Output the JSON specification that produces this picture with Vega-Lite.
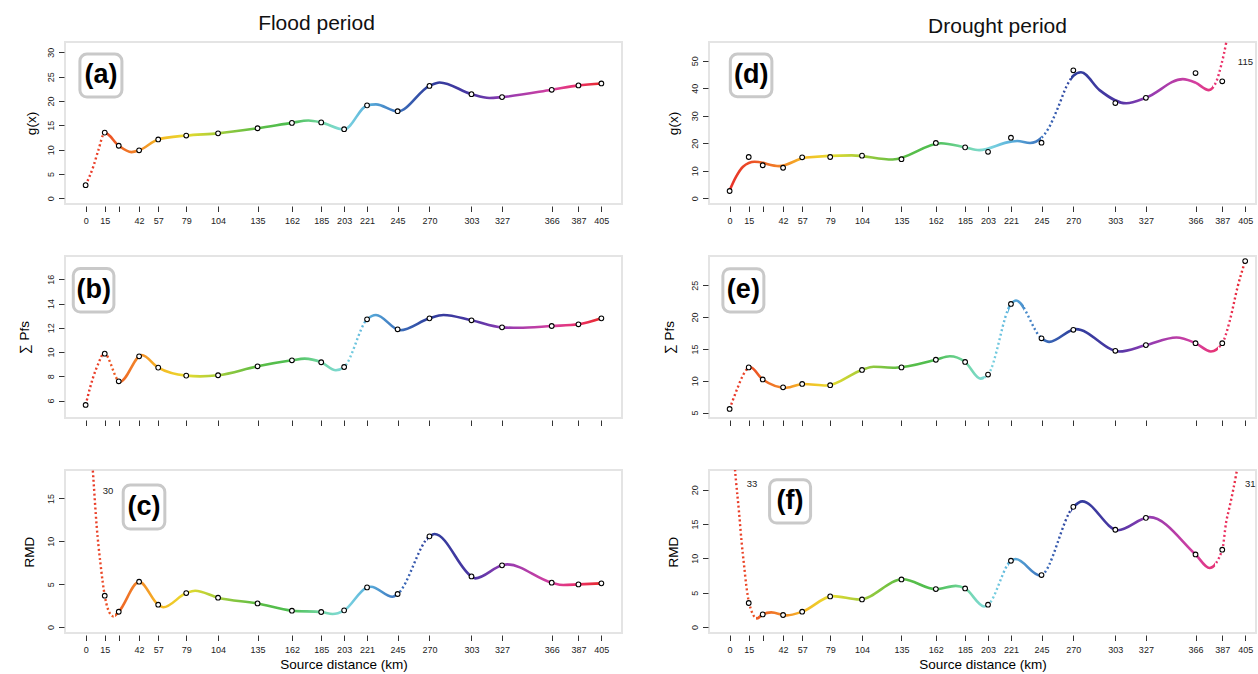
{
"$schema": "https://vega.github.io/schema/vega-lite/v6.json",
"padding": {"left": 16, "top": 12, "right": 0, "bottom": 0},
"config": {
  "font": "Liberation Sans",
  "view": {"stroke": "#e4e4e4", "strokeWidth": 2},
  "axis": {"domain": false, "grid": false, "tickColor": "#333", "tickSize": 5.5, "tickWidth": 1, "tickCount": 60, "format": "d", "labelFontSize": 9, "labelColor": "#222", "labelFont": "Liberation Sans", "titleFont": "Liberation Sans", "titleFontSize": 13.5, "titleFontWeight": "normal", "titleColor": "#000", "labelOverlap": false, "labelSeparation": 0, "labelFlush": false},
  "axisX": {"offset": 2, "labelPadding": 5, "labelOverlap": false},
  "axisY": {"offset": 1, "labelAngle": -90, "labelAlign": "center", "labelBaseline": "bottom", "labelPadding": 3, "labelOverlap": false}
},
"datasets": {
  "a_obs": [{"km":0,"value":2.7},{"km":15,"value":13.5},{"km":26,"value":10.8},{"km":42,"value":9.86},{"km":57,"value":12.1},{"km":79,"value":12.9},{"km":104,"value":13.35},{"km":135,"value":14.4},{"km":162,"value":15.5},{"km":185,"value":15.6},{"km":203,"value":14.2},{"km":221,"value":19.1},{"km":245,"value":17.9},{"km":270,"value":23.1},{"km":303,"value":21.4},{"km":327,"value":20.8},{"km":366,"value":22.3},{"km":387,"value":23.2},{"km":405,"value":23.6}],
  "a_fit": [{"km":0,"value":2.7},{"km":6,"value":6.5},{"km":10,"value":9.9},{"km":15,"value":13.5},{"km":26,"value":10.8},{"km":36,"value":9.5},{"km":42,"value":9.86},{"km":57,"value":12.1},{"km":79,"value":12.9},{"km":104,"value":13.35},{"km":135,"value":14.4},{"km":162,"value":15.5},{"km":175,"value":16.0},{"km":185,"value":15.6},{"km":203,"value":14.15},{"km":221,"value":19.1},{"km":228,"value":19.3},{"km":245,"value":17.85},{"km":270,"value":23.1},{"km":278,"value":23.8},{"km":303,"value":21.4},{"km":317,"value":20.6},{"km":327,"value":20.8},{"km":366,"value":22.3},{"km":387,"value":23.2},{"km":405,"value":23.6}],
  "b_obs": [{"km":0,"value":5.64},{"km":15,"value":9.87},{"km":26,"value":7.59},{"km":42,"value":9.65},{"km":57,"value":8.72},{"km":79,"value":8.06},{"km":104,"value":8.09},{"km":135,"value":8.83},{"km":162,"value":9.32},{"km":185,"value":9.16},{"km":203,"value":8.77},{"km":221,"value":12.7},{"km":245,"value":11.88},{"km":270,"value":12.78},{"km":303,"value":12.62},{"km":327,"value":12.04},{"km":366,"value":12.15},{"km":387,"value":12.29},{"km":405,"value":12.78}],
  "b_fit": [{"km":0,"value":5.64},{"km":6,"value":7.95},{"km":10,"value":9.05},{"km":14.5,"value":9.92},{"km":27,"value":7.55},{"km":44,"value":9.76},{"km":57,"value":8.72},{"km":79,"value":8.06},{"km":90,"value":8.0},{"km":104,"value":8.09},{"km":135,"value":8.83},{"km":162,"value":9.32},{"km":172,"value":9.46},{"km":185,"value":9.16},{"km":196.5,"value":8.5},{"km":203,"value":8.77},{"km":221,"value":12.7},{"km":228,"value":13.06},{"km":247,"value":11.8},{"km":270,"value":12.78},{"km":281,"value":13.06},{"km":303,"value":12.62},{"km":327,"value":12.04},{"km":340,"value":12.0},{"km":366,"value":12.15},{"km":387,"value":12.29},{"km":405,"value":12.78}],
  "c_obs": [{"km":0,"value":30},{"km":15,"value":3.65},{"km":26,"value":1.78},{"km":42,"value":5.28},{"km":57,"value":2.6},{"km":79,"value":3.96},{"km":104,"value":3.42},{"km":135,"value":2.75},{"km":162,"value":1.9},{"km":185,"value":1.75},{"km":203,"value":1.94},{"km":221,"value":4.62},{"km":245,"value":3.85},{"km":270,"value":10.57},{"km":303,"value":5.9},{"km":327,"value":7.19},{"km":366,"value":5.17},{"km":387,"value":4.97},{"km":405,"value":5.09}],
  "c_fit": [{"km":0,"value":30},{"km":6,"value":17.5},{"km":8.6,"value":11.9},{"km":11.8,"value":7.2},{"km":15,"value":3.65},{"km":17.5,"value":2.1},{"km":21.7,"value":1.24},{"km":26,"value":1.78},{"km":42,"value":5.28},{"km":57,"value":2.6},{"km":61,"value":2.3},{"km":79,"value":3.96},{"km":86,"value":4.23},{"km":104,"value":3.42},{"km":135,"value":2.75},{"km":162,"value":1.9},{"km":185,"value":1.75},{"km":194,"value":1.51},{"km":203,"value":1.94},{"km":221,"value":4.62},{"km":224,"value":4.7},{"km":241,"value":3.53},{"km":245,"value":3.85},{"km":270,"value":10.57},{"km":274,"value":10.85},{"km":303,"value":5.9},{"km":306,"value":5.67},{"km":327,"value":7.19},{"km":331,"value":7.3},{"km":366,"value":5.17},{"km":375,"value":4.9},{"km":387,"value":4.97},{"km":405,"value":5.09}],
  "d_obs": [{"km":0,"value":2.65},{"km":15,"value":15.0},{"km":26,"value":12.0},{"km":42,"value":11.1},{"km":57,"value":14.9},{"km":79,"value":15.0},{"km":104,"value":15.5},{"km":135,"value":14.2},{"km":162,"value":20.1},{"km":185,"value":18.5},{"km":203,"value":16.9},{"km":221,"value":22.0},{"km":245,"value":20.2},{"km":270,"value":46.5},{"km":303,"value":34.6},{"km":327,"value":36.5},{"km":366,"value":45.5},{"km":387,"value":42.5},{"km":405,"value":115}],
  "d_fit": [{"km":0,"value":2.9},{"km":5,"value":7.8},{"km":10.5,"value":11.5},{"km":19.6,"value":13.3},{"km":39,"value":11.7},{"km":60,"value":14.8},{"km":96,"value":15.6},{"km":128,"value":14.1},{"km":166,"value":20.0},{"km":185,"value":18.5},{"km":196,"value":17.5},{"km":221,"value":20.6},{"km":226,"value":20.8},{"km":236,"value":20.1},{"km":245,"value":22.0},{"km":250,"value":25},{"km":258,"value":33},{"km":265,"value":41},{"km":270,"value":44.5},{"km":276,"value":45.8},{"km":290.6,"value":39.3},{"km":311.6,"value":34.5},{"km":327,"value":36.5},{"km":356,"value":43.3},{"km":366,"value":42.0},{"km":376.5,"value":39.3},{"km":382.3,"value":42.4},{"km":386.2,"value":48.4},{"km":390,"value":56.3},{"km":405,"value":115}],
  "e_obs": [{"km":0,"value":5.57},{"km":15,"value":12.1},{"km":26,"value":10.2},{"km":42,"value":8.97},{"km":57,"value":9.5},{"km":79,"value":9.3},{"km":104,"value":11.7},{"km":135,"value":12.1},{"km":162,"value":13.3},{"km":185,"value":12.95},{"km":203,"value":10.97},{"km":221,"value":22.06},{"km":245,"value":16.67},{"km":270,"value":18.0},{"km":303,"value":14.7},{"km":327,"value":15.6},{"km":366,"value":15.9},{"km":387,"value":15.9},{"km":405,"value":28.8}],
  "e_fit": [{"km":0,"value":5.57},{"km":6.5,"value":9.0},{"km":10.5,"value":10.86},{"km":16,"value":12.15},{"km":26,"value":10.2},{"km":44.5,"value":8.9},{"km":58,"value":9.5},{"km":76,"value":9.25},{"km":104,"value":11.7},{"km":113,"value":12.2},{"km":130,"value":12.05},{"km":162,"value":13.3},{"km":173,"value":13.85},{"km":185,"value":12.95},{"km":197,"value":10.34},{"km":203,"value":10.97},{"km":221,"value":22.06},{"km":225,"value":22.6},{"km":245,"value":16.67},{"km":251,"value":16.1},{"km":272,"value":18.1},{"km":306,"value":14.6},{"km":327,"value":15.6},{"km":351,"value":16.8},{"km":366,"value":15.9},{"km":378,"value":14.6},{"km":387,"value":15.9},{"km":393,"value":19.5},{"km":399,"value":24.7},{"km":405,"value":28.8}],
  "f_obs": [{"km":0,"value":33},{"km":15,"value":3.5},{"km":26,"value":1.84},{"km":42,"value":1.75},{"km":57,"value":2.23},{"km":79,"value":4.46},{"km":104,"value":4.02},{"km":135,"value":6.93},{"km":162,"value":5.53},{"km":185,"value":5.62},{"km":203,"value":3.25},{"km":221,"value":9.65},{"km":245,"value":7.57},{"km":270,"value":17.5},{"km":303,"value":14.17},{"km":327,"value":15.9},{"km":366,"value":10.57},{"km":387,"value":11.26},{"km":405,"value":31}],
  "f_fit": [{"km":0,"value":33},{"km":5,"value":21.3},{"km":7.4,"value":16.7},{"km":9.3,"value":12.6},{"km":11.4,"value":8.9},{"km":13.2,"value":5.9},{"km":15.3,"value":3.5},{"km":21.5,"value":1.25},{"km":26,"value":1.84},{"km":32.7,"value":2.13},{"km":45,"value":1.7},{"km":57,"value":2.23},{"km":81,"value":4.5},{"km":102,"value":4.0},{"km":136,"value":6.95},{"km":162,"value":5.5},{"km":177.6,"value":6.0},{"km":185,"value":5.62},{"km":200,"value":3.0},{"km":203,"value":3.25},{"km":221,"value":9.65},{"km":224.7,"value":9.9},{"km":244,"value":7.5},{"km":270,"value":17.5},{"km":277,"value":18.3},{"km":305,"value":14.1},{"km":330,"value":16.0},{"km":366,"value":10.57},{"km":377,"value":8.6},{"km":387,"value":11.26},{"km":390,"value":15.2},{"km":393,"value":17.7},{"km":395.4,"value":19.8},{"km":398,"value":22.3},{"km":405,"value":31}]
},
"columns": 2,
"spacing": {"row": 52, "column": 87},
"bounds": "flush",
"concat": [
{
 "width": 557, "height": 162,
 "title": {"text": "Flood period", "anchor": "middle", "frame": "group", "dx": -27, "offset": 8, "fontSize": 21, "fontWeight": "normal", "font": "Liberation Sans", "color": "#111"},
 "layer": [
  {"data": {"name": "a_fit"},
   "mark": {"type": "line", "interpolate": "monotone", "clip": true, "strokeWidth": 2.6, "stroke": {"gradient": "linear", "x1": 0, "y1": 0, "x2": 1, "y2": 0, "stops": [
     {"offset":0,"color":"rgba(255,255,255,0)"},{"offset":0.037,"color":"rgba(255,255,255,0)"},{"offset":0.037,"color":"#eb4b26"},{"offset":0.0642,"color":"#ee6424"},
     {"offset":0.1037,"color":"#f2892a"},{"offset":0.1407,"color":"#f6b524"},{"offset":0.1951,"color":"#e8db2e"},{"offset":0.2568,"color":"#a3cc3b"},{"offset":0.3333,"color":"#5cbd45"},{"offset":0.4,"color":"#4dbe52"},{"offset":0.4568,"color":"#72d7a4"},
     {"offset":0.5012,"color":"#7fd8df"},{"offset":0.5457,"color":"#5ab0dc"},{"offset":0.6049,"color":"#3c72bd"},
     {"offset":0.6667,"color":"#2f3e9c"},{"offset":0.7481,"color":"#4a36a3"},{"offset":0.8074,"color":"#8d3bb2"},{"offset":0.9037,"color":"#d53f9f"},
     {"offset":0.9556,"color":"#eb3068"},{"offset":1,"color":"#e62a2a"}]}},
   "encoding": {
     "x": {"field": "km", "type": "quantitative", "scale": {"domain": [-16.2, 421.2], "nice": false, "zero": false}, "axis": {"values": [0,15,26,42,57,79,104,135,162,185,203,221,245,270,303,327,366,387,405], "tickCount": 60, "format": "d", "labelExpr": "datum.value == 26 ? '' : datum.label", "labelOverlap": false, "title": null}},
     "y": {"field": "value", "type": "quantitative", "scale": {"domain": [-1.17, 32.12], "nice": false, "zero": false}, "axis": {"values": [0,5,10,15,20,25,30], "tickCount": 60, "format": "d", "labelOverlap": false, "title": "g(x)", "titlePadding": 8}}
   }},
  {"data": {"name": "a_fit"},
   "mark": {"type": "line", "interpolate": "monotone", "clip": true, "strokeWidth": 2.4, "strokeDash": [2, 2.6], "stroke": {"gradient": "linear", "x1": 0, "y1": 0, "x2": 1, "y2": 0, "stops": [
     {"offset":0,"color":"#e8322a"},{"offset":0.037,"color":"#eb4b26"},{"offset":0.037,"color":"rgba(255,255,255,0)"},{"offset":1,"color":"rgba(255,255,255,0)"}]}},
   "encoding": {"x": {"field": "km", "type": "quantitative"}, "y": {"field": "value", "type": "quantitative"}}},
  {"data": {"name": "a_obs"},
   "mark": {"type": "point", "shape": "circle", "filled": true, "fill": "white", "stroke": "black", "strokeWidth": 1.1, "size": 22, "opacity": 1, "clip": true},
   "encoding": {"x": {"field": "km", "type": "quantitative"}, "y": {"field": "value", "type": "quantitative"}}},
  {"data": {"values": [{"panel": "(a)"}]},
   "mark": {"type": "rect", "cornerRadius": 7, "fill": "white", "stroke": "#c9c9c9", "strokeWidth": 3},
   "encoding": {"x": {"datum": -4.5}, "x2": {"datum": 28.5}, "y": {"datum": 29.65}, "y2": {"datum": 20.8}}},
  {"data": {"values": [{"panel": "(a)"}]},
   "mark": {"type": "text", "fontSize": 27, "fontWeight": "bold", "align": "center", "baseline": "middle", "color": "#000"},
   "encoding": {"x": {"datum": 12}, "y": {"datum": 25.3}, "text": {"field": "panel"}}}
 ]
},
{
 "width": 547, "height": 162,
 "title": {"text": "Drought period", "anchor": "middle", "frame": "group", "dx": 15, "offset": 5, "fontSize": 21, "fontWeight": "normal", "font": "Liberation Sans", "color": "#111"},
 "layer": [
  {"data": {"name": "d_fit"},
   "mark": {"type": "line", "interpolate": "monotone", "clip": true, "strokeWidth": 2.6, "stroke": {"gradient": "linear", "x1": 0, "y1": 0, "x2": 1, "y2": 0, "stops": [
     {"offset":0,"color":"#e8322a"},{"offset":0.037,"color":"#eb4b26"},{"offset":0.0642,"color":"#ee6424"},
     {"offset":0.1037,"color":"#f2892a"},{"offset":0.1407,"color":"#f6b524"},{"offset":0.1951,"color":"#e8db2e"},{"offset":0.2568,"color":"#a3cc3b"},{"offset":0.3333,"color":"#5cbd45"},{"offset":0.4,"color":"#4dbe52"},{"offset":0.4568,"color":"#72d7a4"},
     {"offset":0.5012,"color":"#7fd8df"},{"offset":0.5457,"color":"#5ab0dc"},{"offset":0.6049,"color":"#3c72bd"},{"offset":0.6049,"color":"rgba(255,255,255,0)"},{"offset":0.6617,"color":"rgba(255,255,255,0)"},{"offset":0.6617,"color":"#30429e"},
     {"offset":0.6667,"color":"#2f3e9c"},{"offset":0.7481,"color":"#4a36a3"},{"offset":0.8074,"color":"#8d3bb2"},{"offset":0.9037,"color":"#d53f9f"},
     {"offset":0.9383,"color":"#e53578"},{"offset":0.9383,"color":"rgba(255,255,255,0)"},{"offset":1,"color":"rgba(255,255,255,0)"}]}},
   "encoding": {
     "x": {"field": "km", "type": "quantitative", "scale": {"domain": [-16.2, 413.5], "nice": false, "zero": false}, "axis": {"values": [0,15,26,42,57,79,104,135,162,185,203,221,245,270,303,327,366,387,405], "tickCount": 60, "format": "d", "labelExpr": "datum.value == 26 ? '' : datum.label", "labelOverlap": false, "title": null}},
     "y": {"field": "value", "type": "quantitative", "scale": {"domain": [-2.07, 56.77], "nice": false, "zero": false}, "axis": {"values": [0,10,20,30,40,50], "tickCount": 60, "format": "d", "labelOverlap": false, "title": "g(x)", "titlePadding": 10}}
   }},
  {"data": {"name": "d_fit"},
   "mark": {"type": "line", "interpolate": "monotone", "clip": true, "strokeWidth": 2.4, "strokeDash": [2, 2.6], "stroke": {"gradient": "linear", "x1": 0, "y1": 0, "x2": 1, "y2": 0, "stops": [
     {"offset":0,"color":"rgba(255,255,255,0)"},{"offset":0.6049,"color":"rgba(255,255,255,0)"},{"offset":0.6049,"color":"#3c72bd"},{"offset":0.6617,"color":"#30429e"},{"offset":0.6617,"color":"rgba(255,255,255,0)"},
     {"offset":0.9383,"color":"rgba(255,255,255,0)"},{"offset":0.9383,"color":"#e53578"},{"offset":0.9556,"color":"#eb3068"},{"offset":1,"color":"#e62a2a"}]}},
   "encoding": {"x": {"field": "km", "type": "quantitative"}, "y": {"field": "value", "type": "quantitative"}}},
  {"data": {"name": "d_obs"},
   "mark": {"type": "point", "shape": "circle", "filled": true, "fill": "white", "stroke": "black", "strokeWidth": 1.1, "size": 22, "opacity": 1, "clip": true},
   "encoding": {"x": {"field": "km", "type": "quantitative"}, "y": {"field": "value", "type": "quantitative"}}},
  {"data": {"values": [{"panel": "(d)"}]},
   "mark": {"type": "rect", "cornerRadius": 7, "fill": "white", "stroke": "#c9c9c9", "strokeWidth": 3},
   "encoding": {"x": {"datum": 0.55}, "x2": {"datum": 33.2}, "y": {"datum": 52.4}, "y2": {"datum": 36.9}}},
  {"data": {"values": [{"panel": "(d)"}]},
   "mark": {"type": "text", "fontSize": 27, "fontWeight": "bold", "align": "center", "baseline": "middle", "color": "#000"},
   "encoding": {"x": {"datum": 16.9}, "y": {"datum": 44.9}, "text": {"field": "panel"}}},
  {"data": {"values": [{"note": "115"}]},
   "mark": {"type": "text", "fontSize": 9.5, "align": "center", "baseline": "middle", "color": "#222"},
   "encoding": {"x": {"datum": 405.2}, "y": {"datum": 49.6}, "text": {"field": "note"}}}
 ]
},
{
 "width": 557, "height": 162,
 "layer": [
  {"data": {"name": "b_fit"},
   "mark": {"type": "line", "interpolate": "monotone", "clip": true, "strokeWidth": 2.6, "stroke": {"gradient": "linear", "x1": 0, "y1": 0, "x2": 1, "y2": 0, "stops": [
     {"offset":0,"color":"rgba(255,255,255,0)"},{"offset":0.0667,"color":"rgba(255,255,255,0)"},{"offset":0.0667,"color":"#ee6624"},
     {"offset":0.1037,"color":"#f2892a"},{"offset":0.1407,"color":"#f6b524"},{"offset":0.1951,"color":"#e8db2e"},{"offset":0.2568,"color":"#a3cc3b"},{"offset":0.3333,"color":"#5cbd45"},{"offset":0.4,"color":"#4dbe52"},{"offset":0.4568,"color":"#72d7a4"},
     {"offset":0.5012,"color":"#7fd8df"},{"offset":0.5012,"color":"rgba(255,255,255,0)"},{"offset":0.5457,"color":"rgba(255,255,255,0)"},{"offset":0.5457,"color":"#5ab0dc"},{"offset":0.6049,"color":"#3c72bd"},
     {"offset":0.6667,"color":"#2f3e9c"},{"offset":0.7481,"color":"#4a36a3"},{"offset":0.8074,"color":"#8d3bb2"},{"offset":0.9037,"color":"#d53f9f"},
     {"offset":0.9556,"color":"#eb3068"},{"offset":1,"color":"#e62a2a"}]}},
   "encoding": {
     "x": {"field": "km", "type": "quantitative", "scale": {"domain": [-16.2, 421.2], "nice": false, "zero": false}, "axis": {"values": [0,15,26,42,57,79,104,135,162,185,203,221,245,270,303,327,366,387,405], "tickCount": 60, "labels": false, "title": null}},
     "y": {"field": "value", "type": "quantitative", "scale": {"domain": [4.566, 17.92], "nice": false, "zero": false}, "axis": {"values": [6,8,10,12,14,16], "tickCount": 60, "format": "d", "labelOverlap": false, "title": "∑ Pfs", "titlePadding": 15}}
   }},
  {"data": {"name": "b_fit"},
   "mark": {"type": "line", "interpolate": "monotone", "clip": true, "strokeWidth": 2.4, "strokeDash": [2, 2.6], "stroke": {"gradient": "linear", "x1": 0, "y1": 0, "x2": 1, "y2": 0, "stops": [
     {"offset":0,"color":"#e8322a"},{"offset":0.037,"color":"#eb4b26"},{"offset":0.0642,"color":"#ee6424"},{"offset":0.0667,"color":"#ee6624"},{"offset":0.0667,"color":"rgba(255,255,255,0)"},
     {"offset":0.5012,"color":"rgba(255,255,255,0)"},{"offset":0.5012,"color":"#7fd8df"},{"offset":0.5457,"color":"#5ab0dc"},{"offset":0.5457,"color":"rgba(255,255,255,0)"},{"offset":1,"color":"rgba(255,255,255,0)"}]}},
   "encoding": {"x": {"field": "km", "type": "quantitative"}, "y": {"field": "value", "type": "quantitative"}}},
  {"data": {"name": "b_obs"},
   "mark": {"type": "point", "shape": "circle", "filled": true, "fill": "white", "stroke": "black", "strokeWidth": 1.1, "size": 22, "opacity": 1, "clip": true},
   "encoding": {"x": {"field": "km", "type": "quantitative"}, "y": {"field": "value", "type": "quantitative"}}},
  {"data": {"values": [{"panel": "(b)"}]},
   "mark": {"type": "rect", "cornerRadius": 7, "fill": "white", "stroke": "#c9c9c9", "strokeWidth": 3},
   "encoding": {"x": {"datum": -9.7}, "x2": {"datum": 22.2}, "y": {"datum": 16.88}, "y2": {"datum": 13.3}}},
  {"data": {"values": [{"panel": "(b)"}]},
   "mark": {"type": "text", "fontSize": 27, "fontWeight": "bold", "align": "center", "baseline": "middle", "color": "#000"},
   "encoding": {"x": {"datum": 6.3}, "y": {"datum": 15.1}, "text": {"field": "panel"}}}
 ]
},
{
 "width": 547, "height": 162,
 "layer": [
  {"data": {"name": "e_fit"},
   "mark": {"type": "line", "interpolate": "monotone", "clip": true, "strokeWidth": 2.6, "stroke": {"gradient": "linear", "x1": 0, "y1": 0, "x2": 1, "y2": 0, "stops": [
     {"offset":0,"color":"rgba(255,255,255,0)"},{"offset":0.0346,"color":"rgba(255,255,255,0)"},{"offset":0.0346,"color":"#eb4926"},{"offset":0.0642,"color":"#ee6424"},
     {"offset":0.1037,"color":"#f2892a"},{"offset":0.1407,"color":"#f6b524"},{"offset":0.1951,"color":"#e8db2e"},{"offset":0.2568,"color":"#a3cc3b"},{"offset":0.3333,"color":"#5cbd45"},{"offset":0.4,"color":"#4dbe52"},{"offset":0.4568,"color":"#72d7a4"},
     {"offset":0.4938,"color":"#7dd8d4"},{"offset":0.4938,"color":"rgba(255,255,255,0)"},{"offset":0.5407,"color":"rgba(255,255,255,0)"},{"offset":0.5407,"color":"#5db4dd"},{"offset":0.5457,"color":"#5ab0dc"},{"offset":0.5704,"color":"#4b90cd"},{"offset":0.5704,"color":"rgba(255,255,255,0)"},{"offset":0.6025,"color":"rgba(255,255,255,0)"},{"offset":0.6025,"color":"#3d74be"},{"offset":0.6049,"color":"#3c72bd"},
     {"offset":0.6667,"color":"#2f3e9c"},{"offset":0.7481,"color":"#4a36a3"},{"offset":0.8074,"color":"#8d3bb2"},{"offset":0.9037,"color":"#d53f9f"},
     {"offset":0.9481,"color":"#e9326e"},{"offset":0.9481,"color":"rgba(255,255,255,0)"},{"offset":1,"color":"rgba(255,255,255,0)"}]}},
   "encoding": {
     "x": {"field": "km", "type": "quantitative", "scale": {"domain": [-16.2, 413.5], "nice": false, "zero": false}, "axis": {"values": [0,15,26,42,57,79,104,135,162,185,203,221,245,270,303,327,366,387,405], "tickCount": 60, "labels": false, "title": null}},
     "y": {"field": "value", "type": "quantitative", "scale": {"domain": [4.15, 29.59], "nice": false, "zero": false}, "axis": {"values": [5,10,15,20,25], "tickCount": 60, "format": "d", "labelOverlap": false, "title": "∑ Pfs", "titlePadding": 14}}
   }},
  {"data": {"name": "e_fit"},
   "mark": {"type": "line", "interpolate": "monotone", "clip": true, "strokeWidth": 2.4, "strokeDash": [2, 2.6], "stroke": {"gradient": "linear", "x1": 0, "y1": 0, "x2": 1, "y2": 0, "stops": [
     {"offset":0,"color":"#e8322a"},{"offset":0.0346,"color":"#eb4926"},{"offset":0.0346,"color":"rgba(255,255,255,0)"},
     {"offset":0.4938,"color":"rgba(255,255,255,0)"},{"offset":0.4938,"color":"#7dd8d4"},{"offset":0.5012,"color":"#7fd8df"},{"offset":0.5407,"color":"#5db4dd"},{"offset":0.5407,"color":"rgba(255,255,255,0)"},
     {"offset":0.5704,"color":"rgba(255,255,255,0)"},{"offset":0.5704,"color":"#4b90cd"},{"offset":0.6025,"color":"#3d74be"},{"offset":0.6025,"color":"rgba(255,255,255,0)"},
     {"offset":0.9481,"color":"rgba(255,255,255,0)"},{"offset":0.9481,"color":"#e9326e"},{"offset":0.9556,"color":"#eb3068"},{"offset":1,"color":"#e62a2a"}]}},
   "encoding": {"x": {"field": "km", "type": "quantitative"}, "y": {"field": "value", "type": "quantitative"}}},
  {"data": {"name": "e_obs"},
   "mark": {"type": "point", "shape": "circle", "filled": true, "fill": "white", "stroke": "black", "strokeWidth": 1.1, "size": 22, "opacity": 1, "clip": true},
   "encoding": {"x": {"field": "km", "type": "quantitative"}, "y": {"field": "value", "type": "quantitative"}}},
  {"data": {"values": [{"panel": "(e)"}]},
   "mark": {"type": "rect", "cornerRadius": 7, "fill": "white", "stroke": "#c9c9c9", "strokeWidth": 3},
   "encoding": {"x": {"datum": -5.3}, "x2": {"datum": 26.9}, "y": {"datum": 27.6}, "y2": {"datum": 20.8}}},
  {"data": {"values": [{"panel": "(e)"}]},
   "mark": {"type": "text", "fontSize": 27, "fontWeight": "bold", "align": "center", "baseline": "middle", "color": "#000"},
   "encoding": {"x": {"datum": 10.8}, "y": {"datum": 24.2}, "text": {"field": "panel"}}}
 ]
},
{
 "width": 557, "height": 163,
 "layer": [
  {"data": {"name": "c_fit"},
   "mark": {"type": "line", "interpolate": "monotone", "clip": true, "strokeWidth": 2.6, "stroke": {"gradient": "linear", "x1": 0, "y1": 0, "x2": 1, "y2": 0, "stops": [
     {"offset":0,"color":"rgba(255,255,255,0)"},{"offset":0.0568,"color":"rgba(255,255,255,0)"},{"offset":0.0568,"color":"#ed5e25"},{"offset":0.0642,"color":"#ee6424"},
     {"offset":0.1037,"color":"#f2892a"},{"offset":0.1407,"color":"#f6b524"},{"offset":0.1951,"color":"#e8db2e"},{"offset":0.2568,"color":"#a3cc3b"},{"offset":0.3333,"color":"#5cbd45"},{"offset":0.4,"color":"#4dbe52"},{"offset":0.4568,"color":"#72d7a4"},
     {"offset":0.5012,"color":"#7fd8df"},{"offset":0.5457,"color":"#5ab0dc"},{"offset":0.6049,"color":"#3c72bd"},{"offset":0.6049,"color":"rgba(255,255,255,0)"},{"offset":0.6617,"color":"rgba(255,255,255,0)"},{"offset":0.6617,"color":"#30429e"},
     {"offset":0.6667,"color":"#2f3e9c"},{"offset":0.7481,"color":"#4a36a3"},{"offset":0.8074,"color":"#8d3bb2"},{"offset":0.9037,"color":"#d53f9f"},
     {"offset":0.9556,"color":"#eb3068"},{"offset":1,"color":"#e62a2a"}]}},
   "encoding": {
     "x": {"field": "km", "type": "quantitative", "scale": {"domain": [-16.2, 421.2], "nice": false, "zero": false}, "axis": {"values": [0,15,26,42,57,79,104,135,162,185,203,221,245,270,303,327,366,387,405], "tickCount": 60, "format": "d", "labelExpr": "datum.value == 26 ? '' : datum.label", "labelOverlap": false, "title": "Source distance (km)", "titlePadding": 3}},
     "y": {"field": "value", "type": "quantitative", "scale": {"domain": [-0.7, 18.31], "nice": false, "zero": false}, "axis": {"values": [0,5,10,15], "tickCount": 60, "format": "d", "labelOverlap": false, "title": "RMD", "titlePadding": 10}}
   }},
  {"data": {"name": "c_fit"},
   "mark": {"type": "line", "interpolate": "monotone", "clip": true, "strokeWidth": 2.4, "strokeDash": [2, 2.6], "stroke": {"gradient": "linear", "x1": 0, "y1": 0, "x2": 1, "y2": 0, "stops": [
     {"offset":0,"color":"#e8322a"},{"offset":0.037,"color":"#eb4b26"},{"offset":0.0568,"color":"#ed5e25"},{"offset":0.0568,"color":"rgba(255,255,255,0)"},
     {"offset":0.6049,"color":"rgba(255,255,255,0)"},{"offset":0.6049,"color":"#3c72bd"},{"offset":0.6617,"color":"#30429e"},{"offset":0.6617,"color":"rgba(255,255,255,0)"},{"offset":1,"color":"rgba(255,255,255,0)"}]}},
   "encoding": {"x": {"field": "km", "type": "quantitative"}, "y": {"field": "value", "type": "quantitative"}}},
  {"data": {"name": "c_obs"},
   "mark": {"type": "point", "shape": "circle", "filled": true, "fill": "white", "stroke": "black", "strokeWidth": 1.1, "size": 22, "opacity": 1, "clip": true},
   "encoding": {"x": {"field": "km", "type": "quantitative"}, "y": {"field": "value", "type": "quantitative"}}},
  {"data": {"values": [{"panel": "(c)"}]},
   "mark": {"type": "rect", "cornerRadius": 7, "fill": "white", "stroke": "#c9c9c9", "strokeWidth": 3},
   "encoding": {"x": {"datum": 29.5}, "x2": {"datum": 62.2}, "y": {"datum": 16.56}, "y2": {"datum": 11.43}}},
  {"data": {"values": [{"panel": "(c)"}]},
   "mark": {"type": "text", "fontSize": 27, "fontWeight": "bold", "align": "center", "baseline": "middle", "color": "#000"},
   "encoding": {"x": {"datum": 45.8}, "y": {"datum": 14.0}, "text": {"field": "panel"}}},
  {"data": {"values": [{"note": "30"}]},
   "mark": {"type": "text", "fontSize": 9.5, "align": "center", "baseline": "middle", "color": "#222"},
   "encoding": {"x": {"datum": 17.6}, "y": {"datum": 15.9}, "text": {"field": "note"}}}
 ]
},
{
 "width": 547, "height": 163,
 "layer": [
  {"data": {"name": "f_fit"},
   "mark": {"type": "line", "interpolate": "monotone", "clip": true, "strokeWidth": 2.6, "stroke": {"gradient": "linear", "x1": 0, "y1": 0, "x2": 1, "y2": 0, "stops": [
     {"offset":0,"color":"rgba(255,255,255,0)"},{"offset":0.0519,"color":"rgba(255,255,255,0)"},{"offset":0.0519,"color":"#ec5825"},{"offset":0.0642,"color":"#ee6424"},
     {"offset":0.1037,"color":"#f2892a"},{"offset":0.1407,"color":"#f6b524"},{"offset":0.1951,"color":"#e8db2e"},{"offset":0.2568,"color":"#a3cc3b"},{"offset":0.3333,"color":"#5cbd45"},{"offset":0.4,"color":"#4dbe52"},{"offset":0.4568,"color":"#72d7a4"},
     {"offset":0.5012,"color":"#7fd8df"},{"offset":0.5012,"color":"rgba(255,255,255,0)"},{"offset":0.5407,"color":"rgba(255,255,255,0)"},{"offset":0.5407,"color":"#5db4dd"},{"offset":0.5457,"color":"#5ab0dc"},{"offset":0.6049,"color":"#3c72bd"},{"offset":0.6049,"color":"rgba(255,255,255,0)"},{"offset":0.6617,"color":"rgba(255,255,255,0)"},{"offset":0.6617,"color":"#30429e"},
     {"offset":0.6667,"color":"#2f3e9c"},{"offset":0.7481,"color":"#4a36a3"},{"offset":0.8074,"color":"#8d3bb2"},{"offset":0.9037,"color":"#d53f9f"},
     {"offset":0.9407,"color":"#e63476"},{"offset":0.9407,"color":"rgba(255,255,255,0)"},{"offset":1,"color":"rgba(255,255,255,0)"}]}},
   "encoding": {
     "x": {"field": "km", "type": "quantitative", "scale": {"domain": [-16.2, 413.5], "nice": false, "zero": false}, "axis": {"values": [0,15,26,42,57,79,104,135,162,185,203,221,245,270,303,327,366,387,405], "tickCount": 60, "format": "d", "labelExpr": "datum.value == 26 ? '' : datum.label", "labelOverlap": false, "title": "Source distance (km)", "titlePadding": 3}},
     "y": {"field": "value", "type": "quantitative", "scale": {"domain": [-0.87, 22.87], "nice": false, "zero": false}, "axis": {"values": [0,5,10,15,20], "tickCount": 60, "format": "d", "labelOverlap": false, "title": "RMD", "titlePadding": 10}}
   }},
  {"data": {"name": "f_fit"},
   "mark": {"type": "line", "interpolate": "monotone", "clip": true, "strokeWidth": 2.4, "strokeDash": [2, 2.6], "stroke": {"gradient": "linear", "x1": 0, "y1": 0, "x2": 1, "y2": 0, "stops": [
     {"offset":0,"color":"#e8322a"},{"offset":0.037,"color":"#eb4b26"},{"offset":0.0519,"color":"#ec5825"},{"offset":0.0519,"color":"rgba(255,255,255,0)"},
     {"offset":0.5012,"color":"rgba(255,255,255,0)"},{"offset":0.5012,"color":"#7fd8df"},{"offset":0.5407,"color":"#5db4dd"},{"offset":0.5407,"color":"rgba(255,255,255,0)"},
     {"offset":0.6049,"color":"rgba(255,255,255,0)"},{"offset":0.6049,"color":"#3c72bd"},{"offset":0.6617,"color":"#30429e"},{"offset":0.6617,"color":"rgba(255,255,255,0)"},
     {"offset":0.9407,"color":"rgba(255,255,255,0)"},{"offset":0.9407,"color":"#e63476"},{"offset":0.9556,"color":"#eb3068"},{"offset":1,"color":"#e62a2a"}]}},
   "encoding": {"x": {"field": "km", "type": "quantitative"}, "y": {"field": "value", "type": "quantitative"}}},
  {"data": {"name": "f_obs"},
   "mark": {"type": "point", "shape": "circle", "filled": true, "fill": "white", "stroke": "black", "strokeWidth": 1.1, "size": 22, "opacity": 1, "clip": true},
   "encoding": {"x": {"field": "km", "type": "quantitative"}, "y": {"field": "value", "type": "quantitative"}}},
  {"data": {"values": [{"panel": "(f)"}]},
   "mark": {"type": "rect", "cornerRadius": 7, "fill": "white", "stroke": "#c9c9c9", "strokeWidth": 3},
   "encoding": {"x": {"datum": 31.4}, "x2": {"datum": 63.6}, "y": {"datum": 21.45}, "y2": {"datum": 15.15}}},
  {"data": {"values": [{"panel": "(f)"}]},
   "mark": {"type": "text", "fontSize": 27, "fontWeight": "bold", "align": "center", "baseline": "middle", "color": "#000"},
   "encoding": {"x": {"datum": 47.5}, "y": {"datum": 18.3}, "text": {"field": "panel"}}},
  {"data": {"values": [{"note": "33"}]},
   "mark": {"type": "text", "fontSize": 9.5, "align": "center", "baseline": "middle", "color": "#222"},
   "encoding": {"x": {"datum": 17.6}, "y": {"datum": 20.9}, "text": {"field": "note"}}},
  {"data": {"values": [{"note": "31"}]},
   "mark": {"type": "text", "fontSize": 9.5, "align": "center", "baseline": "middle", "color": "#222"},
   "encoding": {"x": {"datum": 409}, "y": {"datum": 20.9}, "text": {"field": "note"}}}
 ]
}
]
}
